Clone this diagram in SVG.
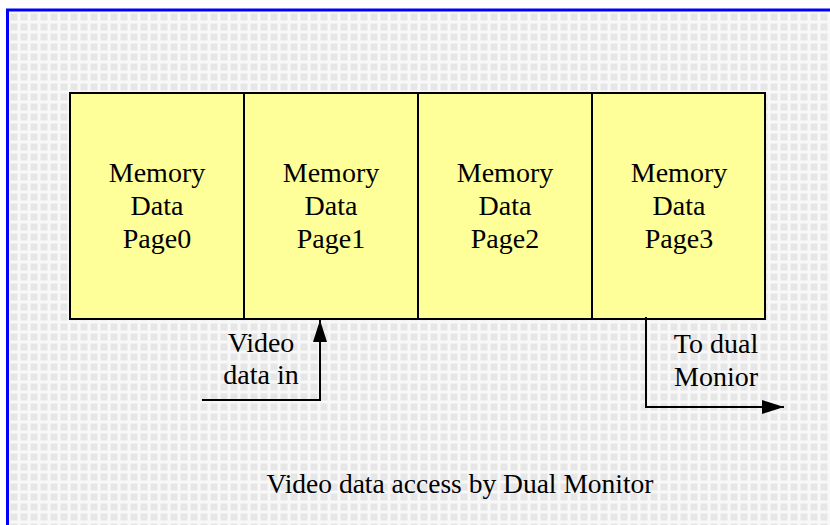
<svg xmlns="http://www.w3.org/2000/svg" width="830" height="525" viewBox="0 0 830 525">
<defs>
<pattern id="grid" x="9" y="12" width="10" height="10" patternUnits="userSpaceOnUse">
<rect width="10" height="10" fill="#f8f8f8"/>
<rect x="1.5" y="1.5" width="7" height="7" fill="#e6e6e6"/>
</pattern>
<marker id="arr" viewBox="0 0 22 14" refX="22" refY="7" markerWidth="22" markerHeight="14" markerUnits="userSpaceOnUse" orient="auto">
<path d="M0,0 L22,7 L0,14 Z" fill="#000"/>
</marker>
</defs>
<style>
.t{font-family:"Liberation Serif","Times New Roman",serif;font-size:28px;fill:#000;text-anchor:middle}
.title{font-size:27.5px}
.cell{fill:#ffff99;stroke:#000;stroke-width:2}
.line{fill:none;stroke:#000;stroke-width:2}
</style>
<rect x="0" y="0" width="830" height="525" fill="#ffffff"/>
<rect x="7.5" y="10" width="840" height="540" fill="url(#grid)" stroke="#0000ff" stroke-width="3"/>
<g id="page0">
<rect class="cell" x="70" y="93" width="174" height="226"/>
<text class="t" x="157" y="182">Memory</text>
<text class="t" x="157" y="215">Data</text>
<text class="t" x="157" y="248">Page0</text>
</g>
<g id="page1">
<rect class="cell" x="244" y="93" width="174" height="226"/>
<text class="t" x="331" y="182">Memory</text>
<text class="t" x="331" y="215">Data</text>
<text class="t" x="331" y="248">Page1</text>
</g>
<g id="page2">
<rect class="cell" x="418" y="93" width="174" height="226"/>
<text class="t" x="505" y="182">Memory</text>
<text class="t" x="505" y="215">Data</text>
<text class="t" x="505" y="248">Page2</text>
</g>
<g id="page3">
<rect class="cell" x="592" y="93" width="173" height="226"/>
<text class="t" x="679" y="182">Memory</text>
<text class="t" x="679" y="215">Data</text>
<text class="t" x="679" y="248">Page3</text>
</g>
<g id="connectors">
<path class="line" d="M202,400 H320 V320" marker-end="url(#arr)"/>
<path class="line" d="M646,317 V407 H784" marker-end="url(#arr)"/>
</g>
<g id="labels">
<text class="t" x="261" y="352">Video</text>
<text class="t" x="261" y="384">data in</text>
<text class="t" x="716" y="353">To dual</text>
<text class="t" x="716" y="386">Monior</text>
<text class="t title" x="460" y="493">Video data access by Dual Monitor</text>
</g>
</svg>
